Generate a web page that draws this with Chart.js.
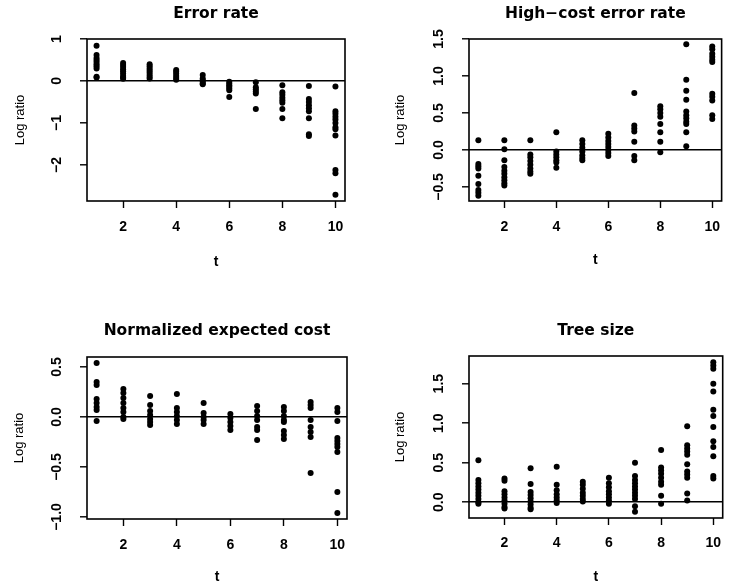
<!DOCTYPE html>
<html lang="en">
<head>
<meta charset="UTF-8">
<title>Log ratio by t</title>
<script src="https://cdn.jsdelivr.net/npm/chart.js"></script>
<style>
  body { margin: 0; background: #fff; }
  #wrap { position: relative; width: 731px; height: 586px; }
  canvas { position: absolute; }
</style>
</head>
<body>
<div id="wrap">
  <canvas id="c1" width="365" height="290" style="left:0;top:0"></canvas>
  <canvas id="c2" width="366" height="290" style="left:365px;top:0"></canvas>
  <canvas id="c3" width="365" height="296" style="left:0;top:290px"></canvas>
  <canvas id="c4" width="366" height="296" style="left:365px;top:290px"></canvas>
</div>
<script>
// x values and axis ticks
var tValues = [1, 2, 3, 4, 5, 6, 7, 8, 9, 10];
var xTicks = [2, 4, 6, 8, 10];

// one inner list of log ratios per t
var errorRate = [
  [0.84, 0.62, 0.55, 0.5, 0.45, 0.4, 0.35, 0.3, 0.1, 0.08],
  [0.43, 0.38, 0.33, 0.28, 0.23, 0.18, 0.12, 0.08, 0.05],
  [0.40, 0.35, 0.3, 0.25, 0.2, 0.15, 0.1, 0.06],
  [0.26, 0.22, 0.17, 0.12, 0.07, 0.03],
  [0.14, 0.06, 0.02, -0.02, -0.06, -0.08],
  [-0.02, -0.06, -0.1, -0.14, -0.18, -0.22, -0.38],
  [-0.03, -0.15, -0.2, -0.25, -0.3, -0.67],
  [-0.1, -0.27, -0.33, -0.4, -0.46, -0.52, -0.67, -0.89],
  [-0.12, -0.43, -0.5, -0.58, -0.65, -0.72, -0.89, -1.27, -1.31],
  [-0.13, -0.72, -0.78, -0.85, -0.92, -1.0, -1.1, -1.15, -1.3, -2.12, -2.2, -2.71]
];
var highCostError = [
  [0.13, -0.19, -0.22, -0.25, -0.35, -0.46, -0.54, -0.58, -0.62],
  [0.13, 0.01, -0.14, -0.23, -0.28, -0.32, -0.37, -0.41, -0.45, -0.48],
  [0.13, -0.06, -0.1, -0.15, -0.2, -0.25, -0.29, -0.32],
  [0.24, -0.02, -0.06, -0.1, -0.14, -0.17, -0.24],
  [0.13, 0.08, 0.03, -0.02, -0.07, -0.11, -0.14],
  [0.22, 0.17, 0.12, 0.08, 0.04, 0.0, -0.04, -0.08],
  [0.77, 0.33, 0.29, 0.25, 0.11, -0.08, -0.14],
  [0.59, 0.55, 0.5, 0.45, 0.35, 0.24, 0.11, -0.03],
  [1.43, 0.95, 0.8, 0.68, 0.52, 0.47, 0.43, 0.38, 0.35, 0.24, 0.05],
  [1.4, 1.36, 1.3, 1.26, 1.22, 1.19, 0.76, 0.72, 0.67, 0.47, 0.42]
];
var normCost = [
  [0.54, 0.35, 0.32, 0.18, 0.14, 0.1, 0.07, -0.04],
  [0.28, 0.24, 0.19, 0.14, 0.09, 0.05, 0.0, -0.02],
  [0.21, 0.12, 0.06, 0.02, -0.02, -0.05, -0.08],
  [0.23, 0.09, 0.05, 0.01, -0.03, -0.07],
  [0.14, 0.04, 0.0, -0.03, -0.07],
  [0.03, -0.01, -0.05, -0.09, -0.13],
  [0.11, 0.06, 0.01, -0.03, -0.1, -0.13, -0.23],
  [0.1, 0.06, 0.01, -0.03, -0.05, -0.14, -0.18, -0.22],
  [0.15, 0.12, 0.09, -0.03, -0.1, -0.15, -0.2, -0.56],
  [0.09, 0.05, -0.04, -0.21, -0.24, -0.27, -0.3, -0.35, -0.75, -0.96]
];
var treeSize = [
  [0.53, 0.28, 0.24, 0.2, 0.16, 0.12, 0.08, 0.04, 0.0, -0.02],
  [0.3, 0.27, 0.14, 0.1, 0.06, 0.02, -0.02, -0.06, -0.08],
  [0.43, 0.23, 0.13, 0.09, 0.05, 0.01, -0.03, -0.07, -0.09],
  [0.45, 0.22, 0.15, 0.1, 0.06, 0.02, -0.01],
  [0.26, 0.22, 0.17, 0.12, 0.08, 0.04, 0.01],
  [0.31, 0.24, 0.19, 0.14, 0.1, 0.06, 0.02, -0.02],
  [0.5, 0.33, 0.28, 0.24, 0.2, 0.16, 0.12, 0.08, 0.04, -0.05, -0.12],
  [0.66, 0.44, 0.4, 0.36, 0.31, 0.26, 0.22, 0.08, -0.02],
  [0.96, 0.72, 0.68, 0.64, 0.6, 0.48, 0.39, 0.35, 0.31, 0.11, 0.02],
  [1.77, 1.73, 1.69, 1.5, 1.4, 1.17, 1.09, 0.95, 0.77, 0.7, 0.58, 0.33, 0.3]
];

// y ticks per panel
var errorTicks = [-2, -1, 0, 1];
var highCostTicks = [-0.5, 0, 0.5, 1, 1.5];
var normCostTicks = [-1, -0.5, 0, 0.5];
var treeTicks = [0, 0.5, 1, 1.5];

var TICK_LEN = 7;
var TICK_FONT = { family: 'Liberation Sans, Arial, sans-serif', size: 14, weight: 'bold', lineHeight: 1.2 };

function fmt(v, digits) {
  return (v < 0 ? '\u2212' : '') + Math.abs(v).toFixed(digits);
}

function widestLabel(vals, digits) {
  var c = document.createElement('canvas').getContext('2d');
  c.font = 'bold 14px Liberation Sans, Arial, sans-serif';
  return Math.max.apply(null, vals.map(function (v) { return c.measureText(fmt(v, digits)).width; }));
}

// draws the box round the plot region
var boxPlugin = {
  id: 'box',
  afterDraw: function (chart) {
    var a = chart.chartArea, ctx = chart.ctx;
    ctx.save();
    ctx.strokeStyle = '#000';
    ctx.lineWidth = 1.6;
    ctx.strokeRect(a.left, a.top, a.right - a.left, a.bottom - a.top);
    ctx.restore();
  }
};

function makePanel(id, title, values, yMin, yMax, yTicks, digits, g) {
  var canvas = document.getElementById(id);
  var W = canvas.width, H = canvas.height;
  var points = [];
  values.forEach(function (col, i) {
    col.forEach(function (v) { points.push({ x: tValues[i], y: v }); });
  });
  var yPad = g.L - TICK_LEN - g.yLab - widestLabel(yTicks, digits) / 2;

  return new Chart(canvas.getContext('2d'), {
    type: 'scatter',
    data: {
      datasets: [{
        data: points,
        backgroundColor: '#000',
        borderWidth: 0,
        pointRadius: 3
      }]
    },
    options: {
      responsive: false,
      animation: false,
      layout: { padding: { left: 0, right: W - g.R, top: 0, bottom: 0 } },
      plugins: {
        legend: { display: false },
        tooltip: { enabled: false },
        title: {
          display: true,
          text: title,
          fullSize: false,
          color: '#000',
          font: { family: 'DejaVu Sans, sans-serif', size: 15.5, weight: 'bold', lineHeight: 1.2 },
          padding: { top: g.titleY - 9.3, bottom: g.T - g.titleY - 9.3 }
        }
      },
      scales: {
        x: {
          type: 'linear',
          min: 0.64,
          max: 10.36,
          afterFit: function (s) { s.height = H - g.B; },
          afterBuildTicks: function (s) { s.ticks = xTicks.map(function (v) { return { value: v }; }); },
          border: { display: false },
          grid: { drawOnChartArea: false, drawTicks: true, tickLength: TICK_LEN, tickColor: '#000', tickWidth: 1.4 },
          ticks: {
            autoSkip: false,
            maxRotation: 0,
            color: '#000',
            font: TICK_FONT,
            padding: g.xLab - g.B - TICK_LEN - 8.4
          },
          title: {
            display: true,
            text: 't',
            color: '#000',
            font: { family: 'Liberation Sans, Arial, sans-serif', size: 14, weight: 'bold', lineHeight: 1.2 },
            padding: { top: 0, bottom: H - g.tY - 8.4 }
          }
        },
        y: {
          type: 'linear',
          min: yMin,
          max: yMax,
          afterFit: function (s) { s.width = g.L; },
          afterBuildTicks: function (s) { s.ticks = yTicks.map(function (v) { return { value: v }; }); },
          border: { display: false },
          grid: {
            drawOnChartArea: true,
            drawTicks: true,
            tickLength: TICK_LEN,
            tickColor: '#000',
            tickWidth: 1.4,
            lineWidth: 1.6,
            color: function (ctx) { return ctx.tick && ctx.tick.value === 0 ? '#000' : 'rgba(0,0,0,0)'; }
          },
          ticks: {
            minRotation: 90,
            maxRotation: 90,
            crossAlign: 'center',
            color: '#000',
            font: TICK_FONT,
            padding: yPad,
            callback: function (v) { return fmt(v, digits); }
          },
          title: {
            display: true,
            text: 'Log ratio',
            color: '#000',
            font: { family: 'Liberation Sans Narrow, Liberation Sans, Arial, sans-serif', size: 13, lineHeight: 1.2 },
            padding: { top: g.yTitle - 7.8, bottom: 0 }
          }
        }
      }
    },
    plugins: [boxPlugin]
  });
}

makePanel('c1', 'Error rate', errorRate, -2.86, 1.0, errorTicks, 0,
  { L: 87, R: 345, T: 39, B: 201, titleY: 14, yLab: 57, yTitle: 20, xLab: 227, tY: 262 });
makePanel('c2', 'High\u2212cost error rate', highCostError, -0.69, 1.5, highCostTicks, 1,
  { L: 104, R: 363, T: 39, B: 201, titleY: 14, yLab: 74, yTitle: 35, xLab: 227, tY: 260 });
makePanel('c3', 'Normalized expected cost', normCost, -1.02, 0.6, normCostTicks, 1,
  { L: 87, R: 347, T: 67, B: 229, titleY: 41, yLab: 57, yTitle: 19, xLab: 255, tY: 287 });
makePanel('c4', 'Tree size', treeSize, -0.2, 1.85, treeTicks, 1,
  { L: 104, R: 363, T: 66, B: 228, titleY: 41, yLab: 74, yTitle: 35, xLab: 253, tY: 287 });
</script>
</body>
</html>
